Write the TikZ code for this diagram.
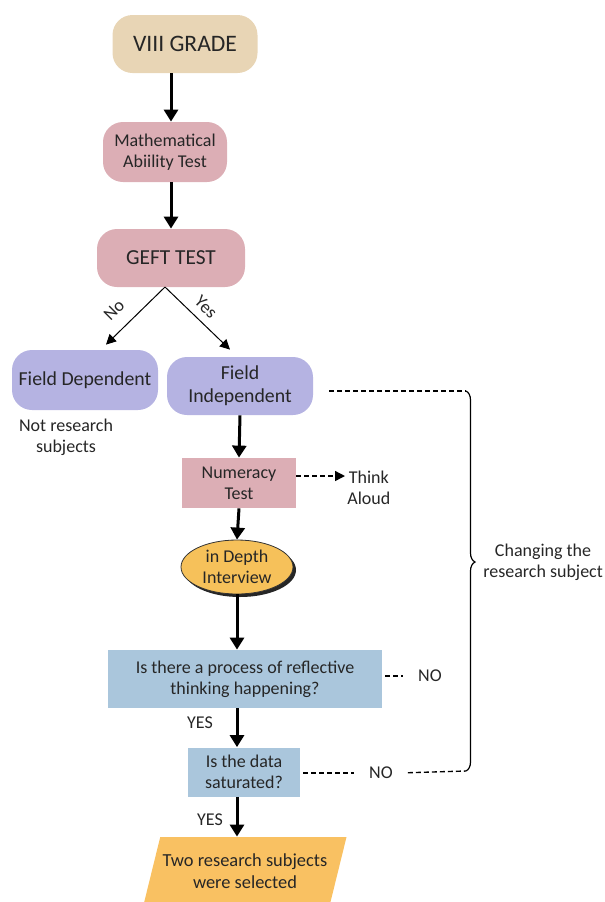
\documentclass[tikz,border=0pt]{standalone}
\usepackage{fontspec}
\setmainfont{Carlito}
\usetikzlibrary{arrows.meta,decorations.pathreplacing,shapes.geometric,shadows}
\definecolor{gradetan}{HTML}{E8D5B5}
\definecolor{testpink}{HTML}{DCAEB5}
\definecolor{fieldblue}{HTML}{B5B3E2}
\definecolor{askblue}{HTML}{AAC6DC}
\definecolor{depthyel}{HTML}{F6C15A}
\definecolor{selorange}{HTML}{F9C162}
\tikzset{
  pill/.style={rounded corners=10pt,inner sep=1pt,align=center},
  sq/.style={inner sep=1pt,align=center},
  down/.style={-{Triangle[length=6pt,width=7pt]},line width=1.5pt},
  slim/.style={-{Triangle[length=5pt,width=5pt]},line width=0.5pt},
  dsh/.style={dash pattern=on 2.5pt off 1.5pt,line width=0.7pt}
}
\begin{document}
\begin{tikzpicture}[x=0.5pt,y=-0.5pt,font=\fontsize{9}{10.5}\selectfont,text=black!85]
  \useasboundingbox (0,0) rectangle (605,902);
  \node[pill,fill=gradetan,minimum width=72.5pt,minimum height=29pt,font=\fontsize{11.8}{13}\selectfont] (grade) at (185,44) {VIII GRADE};
  \node[pill,fill=testpink,minimum width=62pt,minimum height=30pt] (math) at (165,152) {Mathematical\\Abiility Test};
  \node[pill,fill=testpink,minimum width=74pt,minimum height=29pt,font=\fontsize{10.7}{12}\selectfont] (geft) at (171,258) {GEFT TEST};
  \node[pill,fill=fieldblue,minimum width=73pt,minimum height=30pt,font=\fontsize{9.9}{11.5}\selectfont] (dep) at (85,380) {Field Dependent};
  \node[pill,fill=fieldblue,minimum width=73pt,minimum height=29pt,font=\fontsize{9.9}{11.5}\selectfont] (indep) at (240,386) {Field\\Independent};
  \node[align=center] (notsub) at (66,437) {Not research\\subjects};
  \node[sq,fill=testpink,minimum width=57pt,minimum height=25pt] (num) at (239,483) {Numeracy\\Test};
  \node[align=center,anchor=west,inner sep=1pt] (think) at (345,488) {Think\\Aloud};
  \node[ellipse,draw=black!80,fill=depthyel,minimum width=56pt,minimum height=27pt,inner sep=0pt,align=center,
    drop shadow={shadow xshift=1.5pt,shadow yshift=-1.5pt,fill=black!85,opacity=1}] (depth) at (237,567) {in Depth\\Interview};
  \node[sq,fill=askblue,minimum width=137pt,minimum height=29pt] (refl) at (245,679) {Is there a process of reflective\\thinking happening?};
  \node (no1) at (430,676) {NO};
  \node (yes1) at (200,723) {YES};
  \node[sq,fill=askblue,minimum width=56pt,minimum height=24.5pt] (sat) at (244,772) {Is the data\\saturated?};
  \node (no2) at (381,773) {NO};
  \node (yes2) at (210,820) {YES};
  \node[trapezium,trapezium left angle=65,trapezium right angle=115,trapezium stretches=true,fill=selorange,
    minimum width=102pt,minimum height=34pt,inner sep=0pt,align=center,font=\fontsize{9.2}{11}\selectfont] (sel) at (245,871) {Two research subjects\\were selected};
  \node[rotate=45,inner sep=0pt] (nolab) at (114,310) {No};
  \node[rotate=-45,inner sep=0pt] (yeslab) at (206,307) {Yes};
  \coordinate (split) at (165,287);
  \coordinate (bt) at (466,391);
  \coordinate (bb) at (466,771);

  \draw[down] (grade.south -| geft.north) -- (math.north -| geft.north);
  \draw[down] (math.south -| geft.north) -- (geft.north);
  \draw[slim] (split) -- ([shift={(21,-5)}]dep.north);
  \draw[slim] (split) -- ([shift={(-10,-7)}]indep.north);
  \draw[down] (indep.south) -- (num.north);
  \draw[dsh,-{Triangle[length=5pt,width=5pt]}] ([yshift=3.5pt]num.east) -- ([yshift=3.5pt]num.east -| think.west);
  \draw[down] (num.south) -- (depth.north);
  \draw[down] (depth.south) -- (depth.south |- refl.north);
  \draw[down] (depth.south |- refl.south) -- (depth.south |- sat.north);
  \draw[down] (depth.south |- sat.south) -- (depth.south |- sel.north);
  \draw[dsh,shorten <=1.5pt,shorten >=4pt] (refl.east |- no1.west) -- (no1.west);
  \draw[dsh,shorten <=1.5pt,shorten >=4pt] (sat.east |- no2.west) -- (no2.west);
  \draw[dsh,shorten <=4pt] (no2.east) -- (bb);
  \draw[dsh,shorten <=8pt] (indep.east |- bt) -- (bt);
  \draw[line width=0.6pt,decorate,decoration={brace,amplitude=4.5pt,aspect=0.45}] (bt) -- (bb)
    node[pos=0.45,right=5pt,align=center,font=\fontsize{9}{10.5}\selectfont] (change) {Changing the\\research subject};
\end{tikzpicture}
\end{document}
